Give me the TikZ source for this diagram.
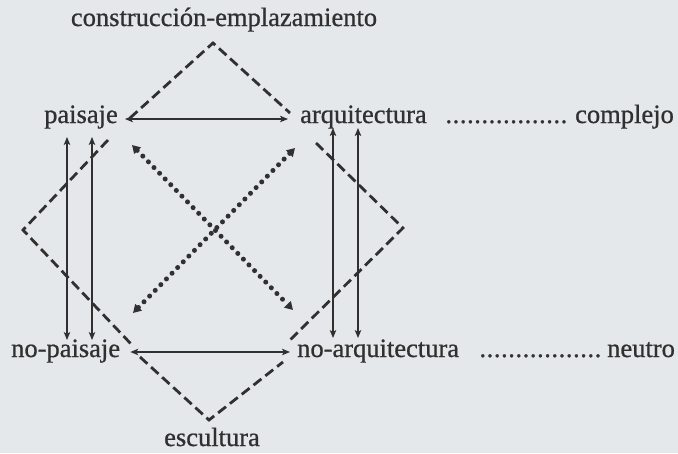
\documentclass[tikz,border=0pt]{standalone}
\usepackage{fontspec}
\setmainfont{Liberation Serif}
\newfontfamily\lblfont{Liberation Serif}[FakeBold=0.8]
\usetikzlibrary{arrows.meta}
\definecolor{bg}{HTML}{E4E8EA}
\definecolor{ink}{HTML}{303030}
\newcommand{\dd}{\hbox to 7.2pt{\hss.\hss}}
\begin{document}
\begin{tikzpicture}[x=1pt,y=-1pt,
  lbl/.style={inner sep=0pt, font=\lblfont\fontsize{26.5}{30}\selectfont, text=ink},
  arr/.style={draw=ink, line width=1.3pt, {Stealth[length=8pt,width=6.5pt,inset=2pt]}-{Stealth[length=8pt,width=6.5pt,inset=2pt]}},
  dashline/.style={draw=ink, line width=2.8pt, dash pattern=on 10pt off 5pt},
  dotline/.style={draw=ink, line width=5pt, line cap=round, dash pattern=on 0pt off 8pt, {Triangle[length=8pt,width=9pt]}-{Triangle[length=8pt,width=9pt]}}
]
\fill[bg] (0,0) rectangle (678,453);
\useasboundingbox (0,0) rectangle (678,453);

% labels
\node[lbl, anchor=base] (cons) at (224,26) {construcción-emplazamiento};
\node[lbl, anchor=base west] (p) at (44,123) {paisaje};
\node[lbl, anchor=base west] (a) at (300,123) {arquitectura};
\node[lbl, anchor=base west] (d1) at (445,123) {\dd\dd\dd\dd\dd\dd\dd\dd\dd\dd\dd\dd\dd\dd\dd\dd\dd};
\node[lbl, anchor=base west] (cx) at (575,123) {complejo};
\node[lbl, anchor=base west] (np) at (11,357) {no-paisaje};
\node[lbl, anchor=base west] (na) at (297,357) {no-arquitectura};
\node[lbl, anchor=base west] (d2) at (479,357) {\dd\dd\dd\dd\dd\dd\dd\dd\dd\dd\dd\dd\dd\dd\dd\dd\dd};
\node[lbl, anchor=base west] (ne) at (607,357) {neutro};
\node[lbl, anchor=base] (esc) at (212,446) {escultura};

% apex / end coordinates
\coordinate (tL) at (130,118);
\coordinate (tA) at (213,43);
\coordinate (tR) at (290,113);
\coordinate (lT) at (108,140);
\coordinate (lA) at (23,230);
\coordinate (lB) at (132,345);
\coordinate (rT) at (316,143);
\coordinate (rA) at (403,228);
\coordinate (rB) at (290,340);
\coordinate (bL) at (140,357);
\coordinate (bA) at (209,420);
\coordinate (bR) at (283,362);
\coordinate (x1) at (132,145);
\coordinate (x2) at (293,310);
\coordinate (x3) at (295,148);
\coordinate (x4) at (133,313);

% dashed V shapes
\draw[dashline] (tL) -- (tA) -- (tR);
\draw[dashline] (lT) -- (lA) -- (lB);
\draw[dashline] (rT) -- (rA) -- (rB);
\draw[dashline] (bL) -- (bA) -- (bR);

% dotted diagonals
\draw[dotline] (x1) -- (x2);
\draw[dotline] (x3) -- (x4);

% solid arrows
\draw[arr] ([shift={(7,-4)}]p.base east) -- ([shift={(-12,-4)}]a.base west);
\draw[arr] ([shift={(10,-5)}]np.base east) -- ([shift={(-7,-5)}]na.base west);
\draw[arr] ([shift={(23,14)}]p.base west) -- ([shift={(56,-17)}]np.base west);
\draw[arr] ([shift={(48,14)}]p.base west) -- ([shift={(81,-17)}]np.base west);
\draw[arr] ([shift={(33,5)}]a.base west) -- ([shift={(36,-19)}]na.base west);
\draw[arr] ([shift={(58,5)}]a.base west) -- ([shift={(61,-19)}]na.base west);
\end{tikzpicture}
\end{document}
